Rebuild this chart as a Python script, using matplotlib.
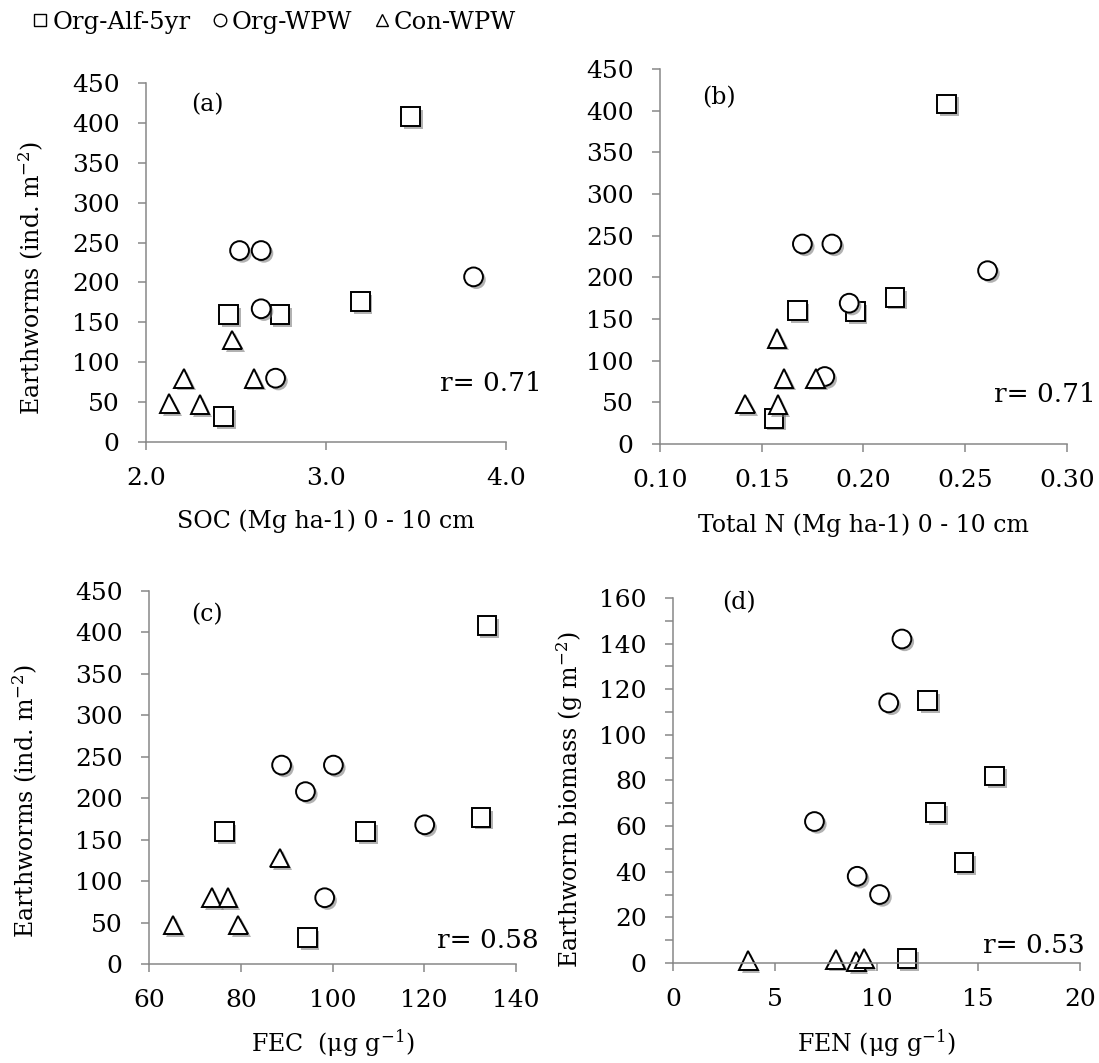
import matplotlib
matplotlib.use("Agg")
import matplotlib.pyplot as plt
import matplotlib.patheffects as pe
from matplotlib.lines import Line2D
from matplotlib.ticker import MultipleLocator, FormatStrFormatter

plt.rcParams['font.family'] = ['DejaVu Serif']
plt.rcParams['mathtext.fontset'] = 'dejavuserif'
plt.rcParams['mathtext.default'] = 'regular'

group_labels = ['Org-Alf-5yr', 'Org-WPW', 'Con-WPW']

# (a) SOC vs earthworm density
soc_alf = [3.47, 2.46, 2.745, 3.19, 2.43]
soc_org = [2.52, 2.64, 2.64, 3.82, 2.72]
soc_con = [2.13, 2.21, 2.30, 2.48, 2.60]
ew_a_alf = [408, 160, 160, 176, 32]
ew_a_org = [240, 240, 167, 207, 80]
ew_a_con = [48, 80, 47, 128, 80]

# (b) total N vs earthworm density
tn_alf = [0.241, 0.1675, 0.196, 0.2155, 0.156]
tn_org = [0.170, 0.1845, 0.193, 0.261, 0.181]
tn_con = [0.142, 0.1575, 0.161, 0.1765, 0.158]
ew_b_alf = [408, 160, 159, 176, 31]
ew_b_org = [240, 240, 169, 208, 81]
ew_b_con = [48, 127, 79, 79, 47]

# (c) FEC vs earthworm density
fec_alf = [133.7, 76.4, 107.2, 132.4, 94.5]
fec_org = [88.9, 100.2, 94.1, 120.1, 98.3]
fec_con = [65.2, 73.7, 77.2, 79.5, 88.5]
ew_c_alf = [408, 160, 160, 177, 32]
ew_c_org = [240, 240, 208, 168, 80]
ew_c_con = [47, 80, 80, 47, 128]

# (d) FEN vs earthworm biomass
fen_alf = [12.5, 15.8, 12.9, 14.3, 11.5]
fen_org = [11.25, 10.6, 6.95, 9.05, 10.15]
fen_con = [3.7, 8.0, 9.0, 9.4]
bio_alf = [115, 82, 66, 44, 2]
bio_org = [142, 114, 62, 38, 30]
bio_con = [1, 1.6, 0.5, 2]

r_values = ['r= 0.71', 'r= 0.71', 'r= 0.58', 'r= 0.53']

AXIS_GRAY = '#878787'
MARKERS = ['s', 'o', '^']
shadow = [pe.SimplePatchShadow(offset=(2, -2), shadow_rgbFace='0.45', alpha=0.55), pe.Normal()]


def style_axes(ax, xlim, xstep, ylim, ystep, xfmt):
    for s in ['top', 'right']:
        ax.spines[s].set_visible(False)
    for s in ['left', 'bottom']:
        ax.spines[s].set_color(AXIS_GRAY)
        ax.spines[s].set_linewidth(1.1)
    ax.set_xlim(*xlim)
    ax.set_ylim(*ylim)
    ax.xaxis.set_major_locator(MultipleLocator(xstep))
    ax.yaxis.set_major_locator(MultipleLocator(ystep))
    ax.xaxis.set_major_formatter(FormatStrFormatter(xfmt))
    ax.tick_params(which='both', direction='out', color=AXIS_GRAY, labelcolor='black',
                   length=6, width=1.1, labelsize=18)
    ax.tick_params(axis='y', pad=13)
    ax.tick_params(axis='x', pad=12)


def scatter_groups(ax, xs, ys):
    for x, y, m in zip(xs, ys, MARKERS):
        ax.plot(x, y, ls='none', marker=m, ms=13.5, mfc='white', mec='black',
                mew=1.4, clip_on=False, path_effects=shadow)


fig = plt.figure(figsize=(10.99, 10.63), dpi=100)
ax_a = fig.add_axes([0.1328, 0.5842, 0.3276, 0.3377])
ax_b = fig.add_axes([0.6005, 0.5823, 0.3703, 0.3528])
ax_c = fig.add_axes([0.1356, 0.0931, 0.3339, 0.3509])
ax_d = fig.add_axes([0.6124, 0.0941, 0.3703, 0.3434])

scatter_groups(ax_a, [soc_alf, soc_org, soc_con], [ew_a_alf, ew_a_org, ew_a_con])
style_axes(ax_a, (2.0, 4.0), 1.0, (0, 450), 50, '%.1f')
ax_a.set_xlabel('SOC (Mg ha-1) 0 - 10 cm', fontsize=17)
ax_a.set_ylabel('Earthworms (ind. m$^{-2}$)', fontsize=17)

scatter_groups(ax_b, [tn_alf, tn_org, tn_con], [ew_b_alf, ew_b_org, ew_b_con])
style_axes(ax_b, (0.10, 0.30), 0.05, (0, 450), 50, '%.2f')
ax_b.set_xlabel('Total N (Mg ha-1) 0 - 10 cm', fontsize=17)

scatter_groups(ax_c, [fec_alf, fec_org, fec_con], [ew_c_alf, ew_c_org, ew_c_con])
style_axes(ax_c, (60, 140), 20, (0, 450), 50, '%d')
ax_c.set_xlabel('FEC  (\u03bcg g$^{-1}$)', fontsize=17)
ax_c.set_ylabel('Earthworms (ind. m$^{-2}$)', fontsize=17)

scatter_groups(ax_d, [fen_alf, fen_org, fen_con], [bio_alf, bio_org, bio_con])
style_axes(ax_d, (0, 20), 5, (0, 160), 20, '%d')
ax_d.yaxis.set_minor_locator(MultipleLocator(10))
ax_d.set_xlabel('FEN (\u03bcg g$^{-1}$)', fontsize=17)
ax_d.set_ylabel('Earthworm biomass (g m$^{-2}$)', fontsize=17)

# label placement (axes fractions)
xlabel_y = [-0.22, -0.216, -0.212, -0.219]
for ax, yy in zip([ax_a, ax_b, ax_c, ax_d], xlabel_y):
    ax.xaxis.set_label_coords(0.5, yy)
    ax.xaxis.label.set_va('center')
for ax, (lx, ly) in zip([ax_a, ax_c, ax_d], [(-0.317, 0.457), (-0.338, 0.437), (-0.253, 0.449)]):
    ax.yaxis.set_label_coords(lx, ly)
    ax.yaxis.label.set_va('center')

panel_pos = [(0.172, 0.94), (0.145, 0.923), (0.158, 0.936), (0.162, 0.986)]
for ax, tag, (px, py) in zip([ax_a, ax_b, ax_c, ax_d], ['(a)', '(b)', '(c)', '(d)'], panel_pos):
    ax.text(px, py, tag, transform=ax.transAxes, ha='center', va='center', fontsize=17)

r_pos = [(1.10, 0.164), (1.071, 0.131), (1.063, 0.064), (1.012, 0.049)]
for ax, txt, (rx, ry) in zip([ax_a, ax_b, ax_c, ax_d], r_values, r_pos):
    ax.text(rx, ry, txt, transform=ax.transAxes, ha='right', va='center', fontsize=19)

handles = [Line2D([], [], ls='none', marker=m, ms=9, mfc='white', mec='black', mew=1.0)
           for m in MARKERS]
fig.legend(handles, group_labels, loc='upper left', bbox_to_anchor=(0.03, 0.99),
           ncol=3, frameon=False, fontsize=17.5, handlelength=0.6, handletextpad=0.2,
           columnspacing=0.9, borderpad=0, borderaxespad=0)

fig.savefig('out.png', dpi=100)
